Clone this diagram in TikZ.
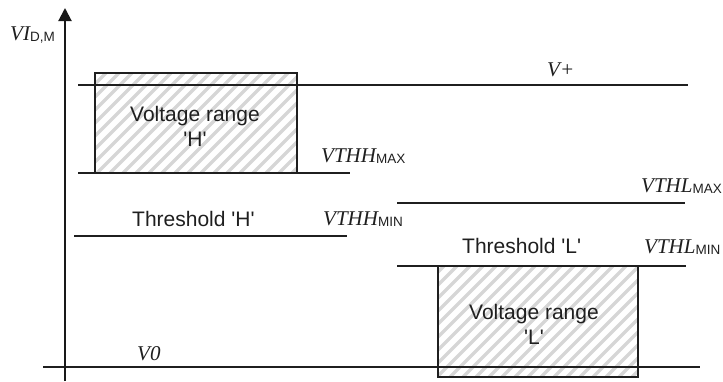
\documentclass[tikz,border=0pt]{standalone}
\usepackage{fontspec}
\setmainfont{Liberation Serif}
\setsansfont{Liberation Sans}
\usetikzlibrary{arrows.meta}
\newcommand{\lvlsub}[1]{\raisebox{-1pt}{\fontsize{13.5}{14}\selectfont\sffamily\upshape #1}}
\newcommand{\sq}{\textquotesingle}
\begin{document}
\begin{tikzpicture}[x=1pt,y=-1pt,
  lvl/.style={line width=1.4pt, draw=black!88},
  rangebox/.style={line width=1.4pt, draw=black!88},
  hatch/.style={line width=3.5pt, draw=black!16},
  sanslbl/.style={font=\fontsize{21}{25}\selectfont\sffamily, inner sep=0pt, text=black!88},
  mathlbl/.style={font=\fontsize{21}{25}\selectfont\itshape, inner sep=0pt, text=black!88}]
\useasboundingbox (0,0) rectangle (723,381);

% hatched ranges
\begin{scope}
  \clip (95,73) rectangle (297,173);
  \foreach \x in {-20,-7,...,300} \draw[hatch] (\x,173) -- ++(100,-100);
\end{scope}
\begin{scope}
  \clip (438,266) rectangle (638,377);
  \foreach \x in {320,333,...,645} \draw[hatch] (\x,377) -- ++(111,-111);
\end{scope}
\draw[rangebox] (95,73) rectangle (297,173);
\draw[rangebox] (438,266) rectangle (638,377);

% level lines
\coordinate (vpL) at (78,85);   \coordinate (vpR) at (688,85);
\coordinate (hmaxL) at (78,173); \coordinate (hmaxR) at (350,173);
\coordinate (hminL) at (74,236); \coordinate (hminR) at (347,236);
\coordinate (lmaxL) at (397,203); \coordinate (lmaxR) at (685,203);
\coordinate (lminL) at (397,266); \coordinate (lminR) at (686,266);
\coordinate (v0L) at (43,367);  \coordinate (v0R) at (700,367);
\draw[lvl] (vpL) -- (vpR);
\draw[lvl] (hmaxL) -- (hmaxR);
\draw[lvl] (hminL) -- (hminR);
\draw[lvl] (lmaxL) -- (lmaxR);
\draw[lvl] (lminL) -- (lminR);
\draw[lvl] (v0L) -- (v0R);

% axis
\coordinate (axB) at (65,381);
\coordinate (axT) at (65,8);
\draw[line width=2pt, draw=black!90, -{Triangle[length=13pt,width=13pt]}] (axB) -- (axT);

% labels
\node[mathlbl, anchor=base west] (vid) at (10,40) {VI\lvlsub{D,M}};
\node[mathlbl, anchor=base west] (vplus) at (547,76) {V+};
\node[mathlbl, anchor=base west] (vthhmax) at (321,162) {VTHH\lvlsub{MAX}};
\node[mathlbl, anchor=base west] (vthlmax) at (641,192) {VTHL\lvlsub{MAX}};
\node[mathlbl, anchor=base west] (vthhmin) at (323,225) {VTHH\lvlsub{MIN}};
\node[mathlbl, anchor=base west] (vthlmin) at (644,253) {VTHL\lvlsub{MIN}};
\node[mathlbl, anchor=base west] (vzero) at (137,360) {V0};
\node[sanslbl, anchor=base west] (thh) at (132,226) {Threshold \sq H\sq};
\node[sanslbl, anchor=base west] (thl) at (462,253) {Threshold \sq L\sq};
\node[sanslbl, align=center] (rangeH) at (195,126) {Voltage range\\\sq H\sq};
\node[sanslbl, align=center] (rangeL) at (534,324) {Voltage range\\\sq L\sq};
\end{tikzpicture}
\end{document}
